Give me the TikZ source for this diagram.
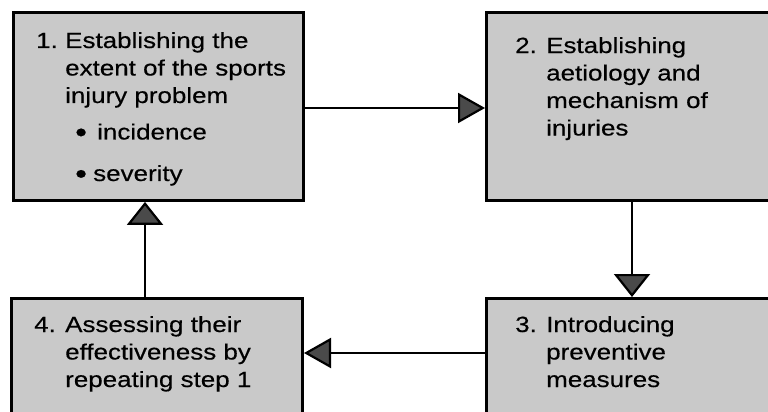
\documentclass[tikz,border=0pt]{standalone}
\usepackage{fontspec}
\setmainfont{Liberation Sans}[FakeStretch=1.18,FakeBold=0.4]
\usetikzlibrary{arrows.meta,positioning,calc}
\definecolor{BoxGray}{HTML}{C9C9C9}
\definecolor{TipGray}{HTML}{4A4A4A}
\newcommand{\stagebullet}{\raisebox{-2.4pt}{\scalebox{1.3}{\textbullet}}}

\begin{document}
\begin{tikzpicture}[x=1pt,y=-1pt,
    stage/.style={draw=black,line width=2.8pt,fill=BoxGray,inner sep=0pt},
    steptext/.style={anchor=base west,inner sep=0pt,
      font=\fontsize{22}{27.5}\selectfont},
    hflow/.style={line width=2.2pt,-{Triangle[length=27pt,width=30pt,fill=TipGray]}},
    vflow/.style={line width=2.2pt,-{Triangle[length=23pt,width=36pt,fill=TipGray]}}]
  \useasboundingbox (0,0) rectangle (768,412);
  \clip (0,0) rectangle (768,412);

  % the four steps
  \node[stage,minimum width=290pt,minimum height=188pt] (s1) at (158.5,106.5) {};
  \node[stage,minimum width=291.2pt,minimum height=188pt] (s2) at (632,106.5) {};
  \node[stage,minimum width=291.2pt,minimum height=141.6pt] (s3) at (632,369.2) {};
  \node[stage,minimum width=291.2pt,minimum height=141.6pt] (s4) at (157,369.2) {};

  \node[steptext] (t1) at (36,48) {\begin{tabular}[t]{@{}l@{}l@{}}
    \makebox[29pt][l]{1.} & Establishing the\\
    & extent of the sports\\
    & injury problem\\[9pt]
    & \hspace{10pt}\makebox[22pt][l]{\stagebullet}incidence\\[14pt]
    & \hspace{10pt}\makebox[18pt][l]{\stagebullet}severity
  \end{tabular}};
  \node[steptext] (t2) at (515,53) {\begin{tabular}[t]{@{}l@{}l@{}}
    \makebox[31pt][l]{2.} & Establishing\\
    & aetiology and\\
    & mechanism of\\
    & injuries
  \end{tabular}};
  \node[steptext] (t3) at (515,332) {\begin{tabular}[t]{@{}l@{}l@{}}
    \makebox[31pt][l]{3.} & Introducing\\
    & preventive\\
    & measures
  \end{tabular}};
  \node[steptext] (t4) at (34,332) {\begin{tabular}[t]{@{}l@{}l@{}}
    \makebox[31pt][l]{4.} & Assessing their\\
    & effectiveness by\\
    & repeating step 1
  \end{tabular}};

  % the cycle
  \draw[hflow] ([yshift=-1.5pt]s1.east) -- ([yshift=-1.5pt]s2.west);
  \draw[vflow] (s2.south) -- (s3.north);
  \draw[hflow] ([yshift=16.2pt]s3.west) -- ([yshift=16.2pt]s4.east);
  \draw[vflow] ([xshift=-12pt]s4.north) -- ([xshift=-13.5pt]s1.south);
\end{tikzpicture}
\end{document}
